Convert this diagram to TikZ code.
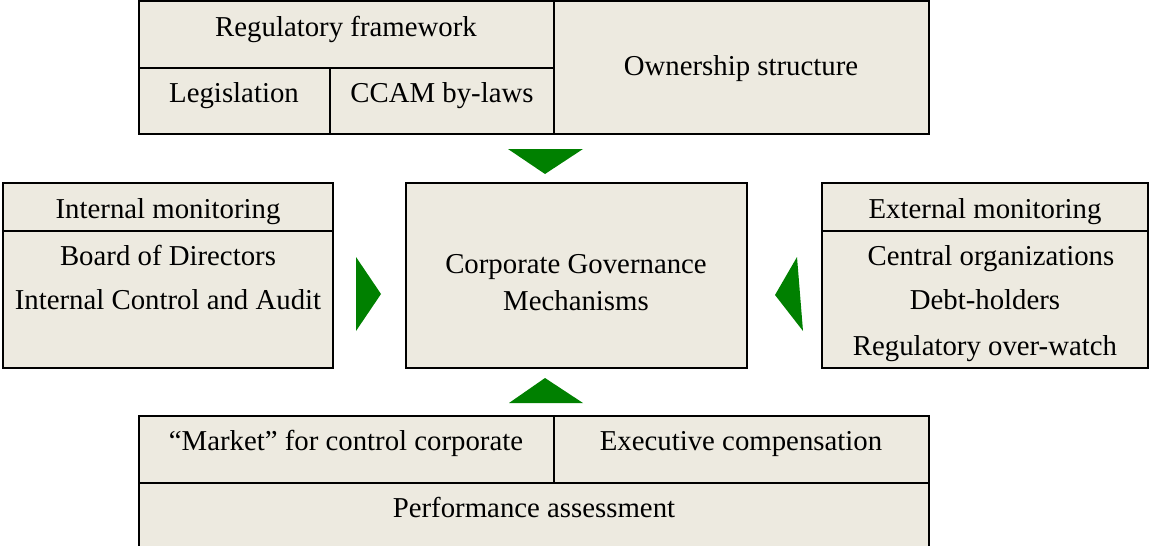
\documentclass[tikz,border=0pt]{standalone}
\usepackage{fontspec}
\setmainfont{Liberation Serif}
\definecolor{boxfill}{HTML}{EDEAE0}
\definecolor{arrowgreen}{HTML}{008000}
\tikzset{
    box/.style={draw=black, line width=2pt, fill=boxfill},
    rule/.style={draw=black, line width=2pt},
    lbl/.style={anchor=base, inner sep=0pt, font=\fontsize{28.8}{35}\selectfont},
    greentri/.style={fill=arrowgreen}
}
\begin{document}
\begin{tikzpicture}[x=1pt, y=-1pt]
    \useasboundingbox (0,0) rectangle (1149,546);
    % top block
    \draw[box]  (139,1) rectangle (929,134);
    \draw[rule] (139,68) -- (554,68);
    \draw[rule] (330,68) -- (330,134);
    \draw[rule] (554,1) -- (554,134);
    \node[lbl] (regframe) at (346,36)  {Regulatory framework};
    \node[lbl] (legis)    at (234,102) {Legislation};
    \node[lbl] (bylaws)   at (442,102) {CCAM by-laws};
    \node[lbl] (owner)    at (741,75)  {Ownership structure};
    %
    % middle row
    \draw[box]  (3,183) rectangle (333,368);
    \draw[rule] (3,231) -- (333,231);
    \node[lbl] (intmon)   at (168,218) {Internal monitoring};
    \node[lbl] (board)    at (168,265) {Board of Directors};
    \node[lbl] (audit)    at (168,309) {Internal Control and Audit};
    %
    \draw[box]  (406,183) rectangle (747,368);
    \node[lbl] (cgm1)     at (576,273) {Corporate Governance};
    \node[lbl] (cgm2)     at (576,310) {Mechanisms};
    %
    \draw[box]  (822,183) rectangle (1148,368);
    \draw[rule] (822,231) -- (1148,231);
    \node[lbl] (extmon)   at (985,218) {External monitoring};
    \node[lbl] (central)  at (991,265) {Central organizations};
    \node[lbl] (debt)     at (985,309) {Debt-holders};
    \node[lbl] (watch)    at (985,355) {Regulatory over-watch};
    %
    % bottom block
    \draw[box]  (139,416) rectangle (929,560);
    \draw[rule] (139,483) -- (929,483);
    \draw[rule] (554,416) -- (554,483);
    \node[lbl] (market)   at (346,450) {``Market'' for control corporate};
    \node[lbl] (comp)     at (741,450) {Executive compensation};
    \node[lbl] (perf)     at (534,517) {Performance assessment};
    %
    % green pointers
    \fill[greentri] (508,149) -- (583,149) -- (545,174) -- cycle;
    \fill[greentri] (509,403) -- (583,403) -- (545,378) -- cycle;
    \fill[greentri] (356,257) -- (381,294) -- (356,331) -- cycle;
    \fill[greentri] (797,257) -- (775,295) -- (803,331) -- cycle;
\end{tikzpicture}
\end{document}
